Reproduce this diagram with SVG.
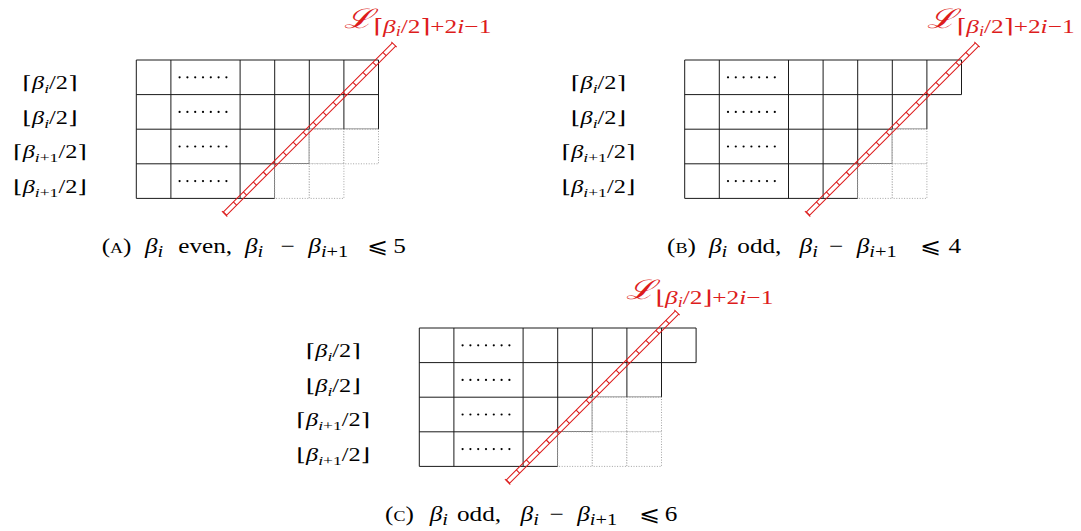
<svg xmlns="http://www.w3.org/2000/svg" width="1081" height="531" viewBox="0 0 1081 531">
<style>
.t{font-family:"Liberation Serif","DejaVu Serif",serif;fill:#000}
.lab{font-size:18px;text-anchor:middle}
.it{font-style:italic}
.sub{font-size:13px}
.cap{font-size:21px}
.csub{font-size:17px}
.sc{font-size:15px}
.rl{font-family:"Liberation Serif","DejaVu Serif",serif;fill:#dd1c1c}
.cal{font-family:"DejaVu Serif",serif;font-size:27px;font-style:italic}
.s1{font-size:19.5px}
.s2{font-size:14px}
.grid{fill:none;stroke:#1a1a1a;stroke-width:1}
.dot{fill:#fff;stroke:#9a9a9a;stroke-width:0.9;stroke-dasharray:1 1.6}
.rail{fill:none;stroke:#dd1c1c;stroke-width:1}
.rung{stroke:#dd1c1c;stroke-width:4.6;stroke-dasharray:1.1 13}
</style>
<defs>
<g id="dots" fill="#000"><circle cx="0" cy="0" r="1.1"/><circle cx="7.8" cy="0" r="1.1"/><circle cx="15.6" cy="0" r="1.1"/><circle cx="23.4" cy="0" r="1.1"/><circle cx="31.2" cy="0" r="1.1"/><circle cx="39" cy="0" r="1.1"/><circle cx="46.8" cy="0" r="1.1"/></g>
<g id="ladder"><path class="rail" d="M0,-2.3H239.6M0,2.3H239.6M0,-3.8V3.8M239.6,-3.8V3.8"/><line class="rung" x1="0" y1="0" x2="239.6" y2="0"/></g>
</defs>

<g id="panel-a">
<path class="grid" d="M136.3,60H378.5M136.3,94.6H378.5M136.3,129.2H378.5M136.3,163.8H309.3M136.3,198.4H274.7M136.3,60V198.4M170.9,60V198.4M240.1,60V198.4M274.7,60V198.4M309.3,60V163.8M343.9,60V129.2M378.5,60V129.2"/>
<rect class="dot" x="309.3" y="129.2" width="34.6" height="34.6"/>
<rect class="dot" x="343.9" y="129.2" width="34.6" height="34.6"/>
<rect class="dot" x="274.7" y="163.8" width="34.6" height="34.6"/>
<rect class="dot" x="309.3" y="163.8" width="34.6" height="34.6"/>
<use href="#dots" x="179.6" y="77.3"/><use href="#dots" x="179.6" y="111.9"/><use href="#dots" x="179.6" y="146.5"/><use href="#dots" x="179.6" y="181.1"/>
<text class="t lab" transform="translate(50,89) scale(1.35,1)">⌈<tspan class="it">β</tspan><tspan class="sub it" dy="4">i</tspan><tspan dy="-4">/2⌉</tspan></text>
<text class="t lab" transform="translate(50,123.6) scale(1.35,1)">⌊<tspan class="it">β</tspan><tspan class="sub it" dy="4">i</tspan><tspan dy="-4">/2⌋</tspan></text>
<text class="t lab" transform="translate(50,158.2) scale(1.35,1)">⌈<tspan class="it">β</tspan><tspan class="sub" dy="4"><tspan class="it">i</tspan>+1</tspan><tspan dy="-4">/2⌉</tspan></text>
<text class="t lab" transform="translate(50,192.8) scale(1.35,1)">⌊<tspan class="it">β</tspan><tspan class="sub" dy="4"><tspan class="it">i</tspan>+1</tspan><tspan dy="-4">/2⌋</tspan></text>
<text class="rl" transform="translate(344,28) scale(1.3,1)"><tspan class="cal">ℒ</tspan><tspan class="s1" dy="5">⌈</tspan><tspan class="s1 it">β</tspan><tspan class="s2 it" dy="3">i</tspan><tspan class="s1" dy="-3">/2⌉+2</tspan><tspan class="s1 it">i</tspan><tspan class="s1">−1</tspan></text>
<text class="t cap" transform="translate(101.7,253) scale(1.2,1)"><tspan x="0">(</tspan><tspan class="sc">A</tspan><tspan>)</tspan><tspan x="36.1" class="it">β</tspan><tspan class="csub it" dy="4">i</tspan><tspan x="63.8" dy="-4">even,</tspan><tspan x="119.4" class="it">β</tspan><tspan class="csub it" dy="4">i</tspan><tspan x="149" dy="-4">−</tspan><tspan x="172.2" class="it">β</tspan><tspan class="csub" dy="4"><tspan class="it">i</tspan>+1</tspan><tspan x="221.5" dy="-4">⩽</tspan><tspan x="243">5</tspan></text>
</g>

<g id="panel-b">
<path class="grid" d="M684.7,60H961.5M684.7,94.6H961.5M684.7,129.2H926.9M684.7,163.8H892.3M684.7,198.4H857.7M684.7,60V198.4M719.3,60V198.4M788.5,60V198.4M823.1,60V198.4M857.7,60V198.4M892.3,60V163.8M926.9,60V129.2M961.5,60V94.6"/>
<rect class="dot" x="892.3" y="129.2" width="34.6" height="34.6"/>
<rect class="dot" x="857.7" y="163.8" width="34.6" height="34.6"/>
<rect class="dot" x="892.3" y="163.8" width="34.6" height="34.6"/>
<use href="#dots" x="728" y="77.3"/><use href="#dots" x="728" y="111.9"/><use href="#dots" x="728" y="146.5"/><use href="#dots" x="728" y="181.1"/>
<text class="t lab" transform="translate(598.5,89) scale(1.35,1)">⌈<tspan class="it">β</tspan><tspan class="sub it" dy="4">i</tspan><tspan dy="-4">/2⌉</tspan></text>
<text class="t lab" transform="translate(598.5,123.6) scale(1.35,1)">⌊<tspan class="it">β</tspan><tspan class="sub it" dy="4">i</tspan><tspan dy="-4">/2⌋</tspan></text>
<text class="t lab" transform="translate(598.5,158.2) scale(1.35,1)">⌈<tspan class="it">β</tspan><tspan class="sub" dy="4"><tspan class="it">i</tspan>+1</tspan><tspan dy="-4">/2⌉</tspan></text>
<text class="t lab" transform="translate(598.5,192.8) scale(1.35,1)">⌊<tspan class="it">β</tspan><tspan class="sub" dy="4"><tspan class="it">i</tspan>+1</tspan><tspan dy="-4">/2⌋</tspan></text>
<text class="rl" transform="translate(927.3,28) scale(1.3,1)"><tspan class="cal">ℒ</tspan><tspan class="s1" dy="5">⌈</tspan><tspan class="s1 it">β</tspan><tspan class="s2 it" dy="3">i</tspan><tspan class="s1" dy="-3">/2⌉+2</tspan><tspan class="s1 it">i</tspan><tspan class="s1">−1</tspan></text>
<text class="t cap" transform="translate(667,253) scale(1.2,1)"><tspan x="0">(</tspan><tspan class="sc">B</tspan><tspan>)</tspan><tspan x="35" class="it">β</tspan><tspan class="csub it" dy="4">i</tspan><tspan x="58.6" dy="-4">odd,</tspan><tspan x="110.5" class="it">β</tspan><tspan class="csub it" dy="4">i</tspan><tspan x="135" dy="-4">−</tspan><tspan x="158.1" class="it">β</tspan><tspan class="csub" dy="4"><tspan class="it">i</tspan>+1</tspan><tspan x="211" dy="-4">⩽</tspan><tspan x="234.6">4</tspan></text>
</g>

<g id="panel-c">
<path class="grid" d="M419.3,328H696.1M419.3,362.6H696.1M419.3,397.2H661.5M419.3,431.8H592.3M419.3,466.4H557.7M419.3,328V466.4M453.9,328V466.4M523.1,328V466.4M557.7,328V466.4M592.3,328V431.8M626.9,328V397.2M661.5,328V397.2M696.1,328V362.6"/>
<rect class="dot" x="592.3" y="397.2" width="34.6" height="34.6"/>
<rect class="dot" x="626.9" y="397.2" width="34.6" height="34.6"/>
<rect class="dot" x="557.7" y="431.8" width="34.6" height="34.6"/>
<rect class="dot" x="592.3" y="431.8" width="34.6" height="34.6"/>
<rect class="dot" x="626.9" y="431.8" width="34.6" height="34.6"/>
<use href="#dots" x="462.6" y="345.3"/><use href="#dots" x="462.6" y="379.9"/><use href="#dots" x="462.6" y="414.5"/><use href="#dots" x="462.6" y="449.1"/>
<text class="t lab" transform="translate(333.3,357) scale(1.35,1)">⌈<tspan class="it">β</tspan><tspan class="sub it" dy="4">i</tspan><tspan dy="-4">/2⌉</tspan></text>
<text class="t lab" transform="translate(333.3,391.6) scale(1.35,1)">⌊<tspan class="it">β</tspan><tspan class="sub it" dy="4">i</tspan><tspan dy="-4">/2⌋</tspan></text>
<text class="t lab" transform="translate(333.3,426.2) scale(1.35,1)">⌈<tspan class="it">β</tspan><tspan class="sub" dy="4"><tspan class="it">i</tspan>+1</tspan><tspan dy="-4">/2⌉</tspan></text>
<text class="t lab" transform="translate(333.3,460.8) scale(1.35,1)">⌊<tspan class="it">β</tspan><tspan class="sub" dy="4"><tspan class="it">i</tspan>+1</tspan><tspan dy="-4">/2⌋</tspan></text>
<text class="rl" transform="translate(626,299) scale(1.3,1)"><tspan class="cal">ℒ</tspan><tspan class="s1" dy="5">⌊</tspan><tspan class="s1 it">β</tspan><tspan class="s2 it" dy="3">i</tspan><tspan class="s1" dy="-3">/2⌋+2</tspan><tspan class="s1 it">i</tspan><tspan class="s1">−1</tspan></text>
<text class="t cap" transform="translate(385,521) scale(1.2,1)"><tspan x="0">(</tspan><tspan class="sc">C</tspan><tspan>)</tspan><tspan x="37.2" class="it">β</tspan><tspan class="csub it" dy="4">i</tspan><tspan x="60" dy="-4">odd,</tspan><tspan x="113" class="it">β</tspan><tspan class="csub it" dy="4">i</tspan><tspan x="137.1" dy="-4">−</tspan><tspan x="160.2" class="it">β</tspan><tspan class="csub" dy="4"><tspan class="it">i</tspan>+1</tspan><tspan x="211.5" dy="-4">⩽</tspan><tspan x="233.2">6</tspan></text>
</g>

<g id="connectors">
<use href="#ladder" transform="translate(224.6,213.9) rotate(-45)"/>
<use href="#ladder" transform="translate(807.6,213.9) rotate(-45)"/>
<use href="#ladder" transform="translate(507.6,481.9) rotate(-45)"/>
</g>
</svg>
